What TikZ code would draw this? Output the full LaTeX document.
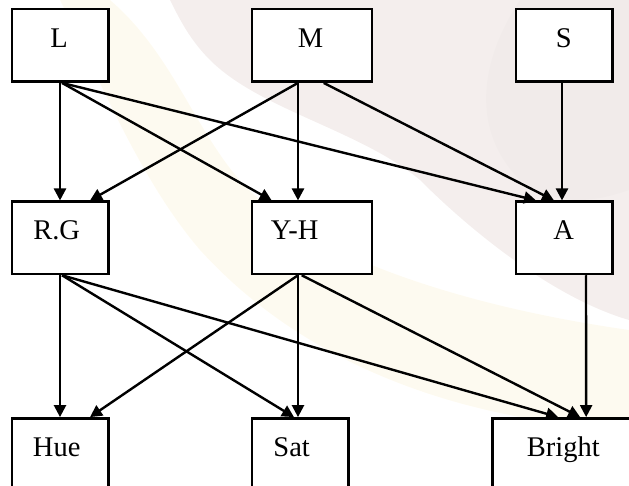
\documentclass[tikz,border=0pt]{standalone}
\usepackage{fontspec}
\setmainfont{Liberation Serif}
\usetikzlibrary{calc,arrows.meta}
\definecolor{wmpink}{RGB}{230,218,215}
\definecolor{wmyel}{RGB}{252,246,226}
\definecolor{wmgray}{RGB}{236,230,230}
\begin{document}
\begin{tikzpicture}[x=1pt,y=-1pt,
  box/.style={draw=black,line width=2.4pt,fill=white,inner sep=0pt,minimum width=96.6pt,minimum height=72.4pt},
  lbl/.style={inner sep=0pt,anchor=base,font=\fontsize{28.5}{32}\selectfont},
  arr/.style={line width=2.4pt,-{Triangle[length=12pt,width=12pt]}}]
\useasboundingbox (0,0) rectangle (629,486);
\clip (0,0) rectangle (629,486);
% faint watermark
\fill[wmyel,opacity=0.5] (110,0) .. controls (180,60) and (200,150) .. (260,200) .. controls (300,240) and (420,300) .. (629,330) -- (629,430) .. controls (450,420) and (300,360) .. (200,250) .. controls (140,180) and (100,80) .. (60,0) -- cycle;
\fill[wmpink,opacity=0.45] (170,0) -- (629,0) -- (629,320) .. controls (560,300) and (480,240) .. (420,180) .. controls (360,130) and (260,110) .. (210,60) .. controls (190,40) and (180,20) .. cycle;
\fill[wmgray,opacity=0.35] (520,0) .. controls (480,60) and (470,130) .. (520,180) .. controls (560,210) and (600,200) .. (629,190) -- (629,0) -- cycle;
% boxes
\node[box] (L) at (60,45.5) {};
\node[box,minimum width=120pt] (M) at (311.7,45.5) {};
\node[box] (S) at (564,45.5) {};
\node[box] (RG) at (60,237.85) {};
\node[box,minimum width=120pt] (YH) at (311.7,237.85) {};
\node[box] (A) at (564,237.85) {};
\node[box,minimum height=100pt] (Hue) at (60,468.3) {};
\node[box,minimum height=100pt] (Sat) at (300,468.3) {};
\node[box,minimum width=141.7pt,minimum height=100pt] (Bright) at (563.15,468.3) {};
% labels
\node[lbl] (tL) at (59,47.7) {L};
\node[lbl] (tM) at (310.6,47.7) {M};
\node[lbl] (tS) at (563.7,47.7) {S};
\node[lbl] (tRG) at (56.7,240) {R.G};
\node[lbl] (tYH) at (294.6,240) {Y-H};
\node[lbl] (tA) at (563.7,240) {A};
\node[lbl] (tHue) at (56.7,456) {Hue};
\node[lbl] (tSat) at (291.7,456) {Sat};
\node[lbl] (tBright) at (563.3,456) {Bright};
% edges top -> middle
\draw[arr] (L.south) -- (RG.north);
\draw[arr] ($(M.south)+(-13.7,0)$) -- ($(RG.north)+(30,0)$);
\draw[arr] ($(L.south)+(2,0)$) -- ($(YH.north)+(-40,0)$);
\draw[arr] ($(M.south)+(-13.7,0)$) -- ($(YH.north)+(-13.7,0)$);
\draw[arr] ($(L.south)+(2,0)$) -- ($(A.north)+(-28,0)$);
\draw[arr] ($(M.south)+(12,0)$) -- ($(A.north)+(-10,0)$);
\draw[arr] ($(S.south)+(-2,0)$) -- ($(A.north)+(-2,0)$);
% edges middle -> bottom
\draw[arr] (RG.south) -- (Hue.north);
\draw[arr] ($(YH.south)+(-13.7,0)$) -- ($(Hue.north)+(30,0)$);
\draw[arr] ($(RG.south)+(2,0)$) -- ($(Sat.north)+(-6,0)$);
\draw[arr] ($(YH.south)+(-13.7,0)$) -- ($(Sat.north)+(-2,0)$);
\draw[arr] ($(RG.south)+(2,0)$) -- ($(Bright.north)+(-5,0)$);
\draw[arr] ($(YH.south)+(-10,0)$) -- ($(Bright.north)+(17,0)$);
\draw[arr] ($(A.south)+(22,0)$) -- ($(Bright.north)+(23,0)$);
\end{tikzpicture}
\end{document}
